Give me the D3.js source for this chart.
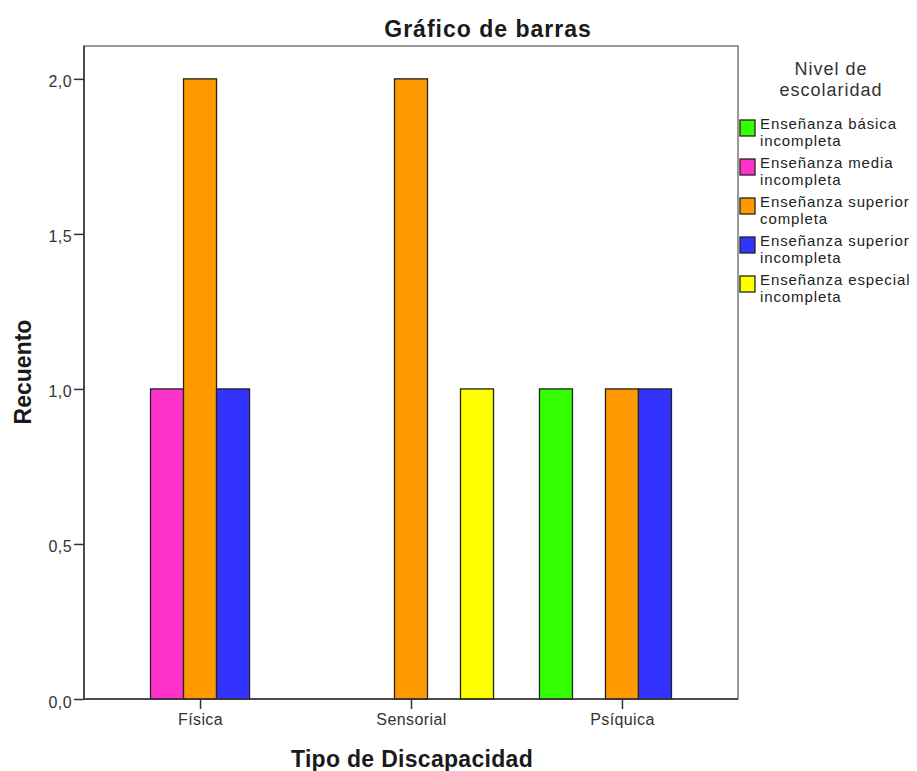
<!DOCTYPE html>
<html><head><meta charset="utf-8">
<script src="https://cdn.jsdelivr.net/npm/d3@7"></script>
<style>body{margin:0;background:#fff;} svg{display:block;font-family:"Liberation Sans",Arial,sans-serif;}</style>
</head><body>
<svg id="c" width="917" height="771"></svg>
<script>
const categories = ["Física", "Sensorial", "Psíquica"];
const seriesNames = ["Enseñanza básica incompleta", "Enseñanza media incompleta", "Enseñanza superior completa", "Enseñanza superior incompleta", "Enseñanza especial incompleta"];
const legendLines = [["Enseñanza básica", "incompleta"], ["Enseñanza media", "incompleta"], ["Enseñanza superior", "completa"], ["Enseñanza superior", "incompleta"], ["Enseñanza especial", "incompleta"]];
const seriesColors = ["#33ff00", "#ff33cc", "#ff9900", "#3333ff", "#ffff00"];
const basica = [0, 0, 1];
const media = [1, 0, 0];
const superiorCompleta = [2, 2, 1];
const superiorIncompleta = [1, 0, 1];
const especial = [0, 1, 0];
const yTicks = [0, 0.5, 1, 1.5, 2];
const seriesValues = [basica, media, superiorCompleta, superiorIncompleta, especial];

const svg = d3.select("#c");
const L = 84, R = 738, T = 46, B = 699;
const y = d3.scaleLinear().domain([0, 2.106]).range([B, T]);
const x = d3.scalePoint().domain(categories).range([L, R]).padding(0.55);
const xs = d3.scaleBand().domain(seriesNames).range([-82.5, 82.5]);

// frame
svg.append("rect").attr("x", L).attr("y", T).attr("width", R - L).attr("height", B - T)
  .attr("fill", "none").attr("stroke", "#777").attr("stroke-width", 1.5);

// bars
seriesNames.forEach((s, si) => {
  categories.forEach((c, ci) => {
    const v = seriesValues[si][ci];
    if (v > 0) {
      svg.append("rect")
        .attr("x", x(c) + xs(s)).attr("y", y(v))
        .attr("width", xs.bandwidth()).attr("height", y(0) - y(v))
        .attr("fill", seriesColors[si]).attr("stroke", "#222").attr("stroke-width", 1.3);
    }
  });
});

// axes
const fmt = d => d3.format(".1f")(d).replace(".", ",");
const yAxis = svg.append("g").attr("transform", `translate(${L},0)`)
  .call(d3.axisLeft(y).tickValues(yTicks).tickFormat(fmt).tickSize(10).tickPadding(2));
const xAxis = svg.append("g").attr("transform", `translate(0,${B})`)
  .call(d3.axisBottom(x).tickSize(10).tickPadding(5));
[yAxis, xAxis].forEach(a => {
  a.select(".domain").attr("stroke", "#333").attr("stroke-width", 1.5);
  a.selectAll(".tick line").attr("stroke", "#333").attr("stroke-width", 1.5);
  a.selectAll(".tick text").attr("fill", "#333").style("font-size", "16px").style("letter-spacing", "0.4px")
    .style("font-family", "Liberation Sans, Arial, sans-serif");
});
yAxis.selectAll(".tick text").attr("dy", "0.5em");
yAxis.select(".domain").attr("d", `M-0,${B}V${T}`);
xAxis.select(".domain").attr("d", `M${L},0H${R}`);

// titles
svg.append("text").attr("x", 488).attr("y", 37).attr("text-anchor", "middle")
  .style("font-size", "23px").style("font-weight", "bold").style("letter-spacing", "1px").attr("fill", "#1a1a1a").text("Gráfico de barras");
svg.append("text").attr("x", 412).attr("y", 767).attr("text-anchor", "middle")
  .style("font-size", "23px").style("font-weight", "bold").style("letter-spacing", "0.3px").attr("fill", "#1a1a1a").text("Tipo de Discapacidad");
svg.append("text").attr("transform", "translate(31,372) rotate(-90)").attr("text-anchor", "middle")
  .style("font-size", "23px").style("font-weight", "bold").attr("fill", "#1a1a1a").text("Recuento");

// legend
const lg = svg.append("g");
lg.append("text").attr("x", 831).attr("y", 75).attr("text-anchor", "middle")
  .style("font-size", "18px").style("letter-spacing", "1px").attr("fill", "#333").text("Nivel de");
lg.append("text").attr("x", 831).attr("y", 96).attr("text-anchor", "middle")
  .style("font-size", "18px").style("letter-spacing", "1px").attr("fill", "#333").text("escolaridad");
seriesNames.forEach((s, i) => {
  const g = lg.append("g").attr("transform", `translate(740,${120 + i * 39})`);
  g.append("rect").attr("x", 0).attr("y", 0).attr("width", 15).attr("height", 16)
    .attr("fill", seriesColors[i]).attr("stroke", "#222").attr("stroke-width", 1.3);
  legendLines[i].forEach((t, j) => {
    g.append("text").attr("x", 20).attr("y", 9 + j * 17).style("font-size", "15px").style("letter-spacing", "0.9px")
      .attr("fill", "#222").text(t);
  });
});
</script>
</body></html>
